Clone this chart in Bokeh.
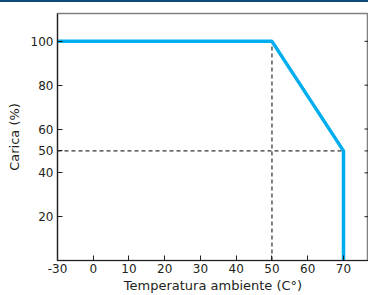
from bokeh.plotting import figure
from bokeh.models import Range1d, FixedTicker, Div
from bokeh.layouts import column
from bokeh.embed import file_html
from bokeh.resources import INLINE

# Data
temperature = [-30, 50, 70, 70]          # °C
load = [100, 100, 50, 0]                 # %
x_tick_values = [-30, 0, 10, 20, 30, 40, 50, 60, 70]
y_tick_values = [20, 40, 50, 60, 80, 100]
knee_temp = 50
knee_load = 50
max_temp = 70
x_end = 77
y_end = 112.7

def pos(t):
    # broken axis: the -30..0 stretch is drawn compressed (1/3 scale)
    return t if t >= 0 else t / 3.0

FONT = "DejaVu Sans"
TXT = "#231f20"

bar = Div(text="", width=368, height=2, margin=0,
          styles={"background-color": "#0d4b7a"})

p = figure(width=368, height=293, output_backend="svg", toolbar_location=None,
           x_range=Range1d(pos(-30), x_end), y_range=Range1d(0, y_end),
           min_border_left=57, min_border_top=11, min_border_right=0, min_border_bottom=34,
           background_fill_color="white", border_fill_color="white", margin=0)
p.grid.visible = False
p.outline_line_color = "#808080"
p.outline_line_width = 1.5

xs = [pos(t) for t in temperature]

# dashed guide lines
p.line([pos(knee_temp), pos(knee_temp)], [0, 100], line_color="black", line_width=1, line_dash="4 3")
p.line([pos(-30), pos(max_temp)], [knee_load, knee_load], line_color="black", line_width=1, line_dash="4 3")

p.line(xs, load, line_color="#00aeef", line_width=3.5)

# right-hand tick marks
p.scatter([x_end] * len(y_tick_values), y_tick_values, marker="dash", size=8,
          line_color=TXT, line_width=1)

for ax in (p.xaxis[0], p.yaxis[0]):
    ax.axis_line_color = TXT
    ax.axis_line_width = 1.2
    ax.major_tick_in = 5
    ax.major_tick_out = 0
    ax.minor_tick_line_color = None
    ax.major_tick_line_color = TXT
    ax.major_label_text_font = FONT
    ax.major_label_text_font_size = "12px"
    ax.major_label_text_color = TXT
    ax.axis_label_text_font = FONT
    ax.axis_label_text_font_size = "13px"
    ax.axis_label_text_font_style = "normal"
    ax.axis_label_text_color = TXT

p.xaxis.ticker = FixedTicker(ticks=[pos(t) for t in x_tick_values])
p.xaxis.major_label_overrides = {pos(t): str(t) for t in x_tick_values}
p.xaxis.axis_label = "Temperatura ambiente (C°)"
p.xaxis.major_label_standoff = 3
p.xaxis.axis_label_standoff = 2

p.yaxis.ticker = FixedTicker(ticks=y_tick_values)
p.yaxis.axis_label = "Carica (%)"
p.yaxis.major_label_standoff = 4
p.yaxis.axis_label_standoff = 6

layout = column(bar, p, spacing=0, margin=0)
open("out.html", "w").write(file_html(layout, INLINE))
